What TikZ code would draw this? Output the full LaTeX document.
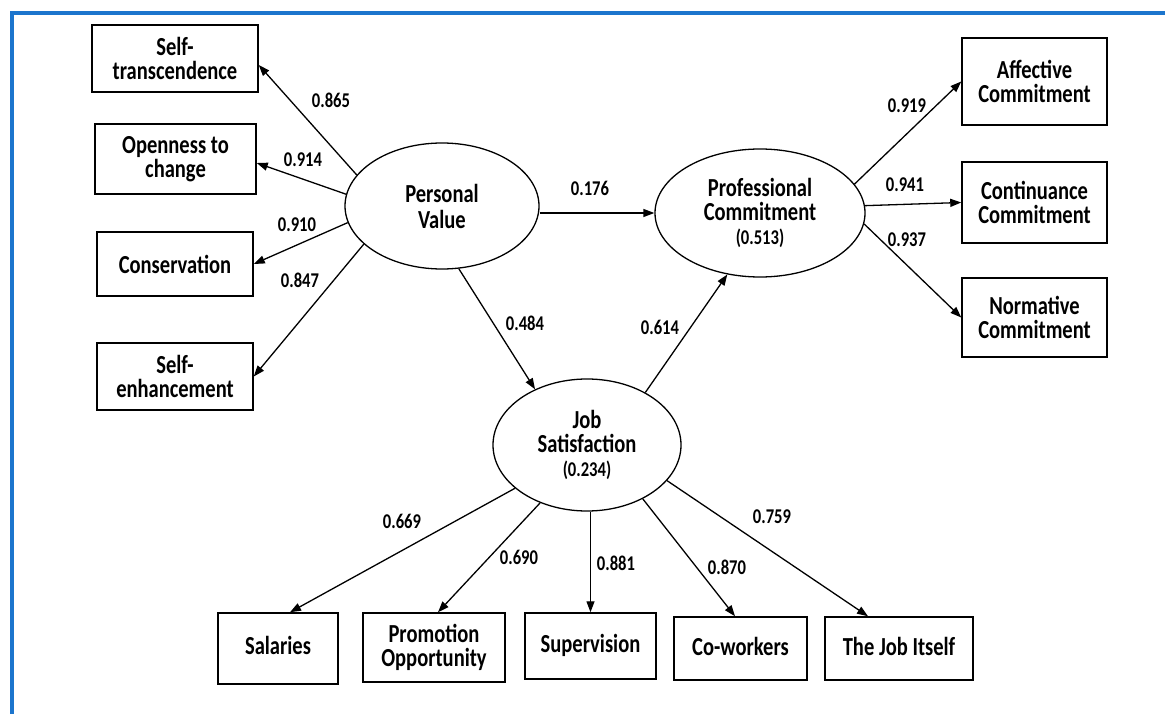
\documentclass[tikz,border=0pt]{standalone}
\usepackage{fontspec}
\newfontfamily\dfont{Carlito}[FakeStretch=0.79]
\usetikzlibrary{arrows.meta,calc,shapes.geometric}
\definecolor{frameblue}{RGB}{28,117,205}
\begin{document}
\begin{tikzpicture}[x=1pt,y=-1pt,
  box/.style={draw=black,line width=1.5pt,fill=white,align=center,inner sep=0pt,
    font=\dfont\bfseries\fontsize{26}{23.5}\selectfont},
  latent/.style={ellipse,draw=black,line width=1.3pt,fill=white,align=center,inner sep=0pt,
    font=\dfont\bfseries\fontsize{26}{24}\selectfont},
  arr/.style={-{Triangle[length=11pt,width=8pt]},line width=1.3pt},
  lab/.style={font=\dfont\bfseries\fontsize{21}{21}\selectfont,inner sep=0pt}]
\useasboundingbox (0,0) rectangle (1165,714);
\fill[white] (0,0) rectangle (1165,714);
\draw[frameblue,line width=3.5pt] (12,720) -- (12,13) -- (1170,13);

% indicator boxes
\node[box,minimum width=166pt,minimum height=67pt] (st) at (175,58.5) {Self-\\transcendence};
\node[box,minimum width=161pt,minimum height=70pt] (oc) at (175.5,159) {Openness to\\change};
\node[box,minimum width=156pt,minimum height=64pt] (cons) at (175,264) {Conservation};
\node[box,minimum width=156pt,minimum height=67pt] (se) at (175,376.5) {Self-\\enhancement};
\node[box,minimum width=145pt,minimum height=87pt] (aff) at (1034.5,81.5) {Affective\\Commitment};
\node[box,minimum width=145pt,minimum height=81pt] (cont) at (1034.5,202.5) {Continuance\\Commitment};
\node[box,minimum width=145pt,minimum height=79pt] (norm) at (1034.5,317.5) {Normative\\Commitment};
\node[box,minimum width=120pt,minimum height=71pt] (sal) at (278,648.5) {\raisebox{7pt}{Salaries}};
\node[box,minimum width=142pt,minimum height=69pt] (promo) at (434,647.5) {Promotion\\Opportunity};
\node[box,minimum width=131pt,minimum height=66pt] (sup) at (590.5,646) {\raisebox{5pt}{Supervision}};
\node[box,minimum width=133pt,minimum height=63pt] (cow) at (740.5,648.5) {\raisebox{4pt}{Co-workers}};
\node[box,minimum width=148pt,minimum height=63pt] (job) at (899,648.5) {\raisebox{4pt}{The Job Itself}};

% latent variables
\node[latent,minimum width=194pt,minimum height=126pt] (pv) at (442,206) {Personal\\[2pt]Value};
\node[latent,minimum width=210pt,minimum height=128pt] (pc) at (760,213)
  {Professional\\Commitment\\{\fontsize{21}{21}\selectfont(0.513)}};
\node[latent,minimum width=188pt,minimum height=132pt] (js) at (587,445)
  {Job\\Satisfaction\\{\fontsize{21}{21}\selectfont(0.234)}};

% connectors
\draw[arr] (pv.160) -- ($(st.east)+(0,6.5)$);
\draw[arr] (pv.173) -- ($(oc.east)+(0,4)$);
\draw[arr] (pv.190) -- (cons.east);
\draw[arr] (pv.206) -- (se.east);
\draw[arr] (pv.east |- pc.west) -- (pc.west);
\draw[arr] (pv.285) -- (js.133);
\draw[arr] (js.42) -- (pc.242);
\draw[arr] (pc.17) -- (aff.west);
\draw[arr] (pc.4) -- (cont.west);
\draw[arr] (pc.-6.5) -- (norm.west);
\draw[arr] (js.211) -- ($(sal.north)+(12,0)$);
\draw[arr] (js.231) -- ($(promo.north)+(4,0)$);
\draw[arr] (sup.north |- js.south) -- (sup.north);
\draw[arr] (js.-44.5) -- ($(cow.north)+(-5.5,0)$);
\draw[arr] (js.-24.6) -- ($(job.north)+(-31,0)$);

% labels
\node[lab] (l1) at (331,100) {0.865};
\node[lab] (l2) at (303,160) {0.914};
\node[lab] (l3) at (297,225) {0.910};
\node[lab] (l4) at (300,280) {0.847};
\node[lab] (l5) at (590,188) {0.176};
\node[lab] (l6) at (525,323) {0.484};
\node[lab] (l7) at (660,327) {0.614};
\node[lab] (l8) at (907,106) {0.919};
\node[lab] (l9) at (905,185) {0.941};
\node[lab] (l10) at (907,240) {0.937};
\node[lab] (l11) at (402,521) {0.669};
\node[lab] (l12) at (519,557) {0.690};
\node[lab] (l13) at (616,563) {0.881};
\node[lab] (l14) at (727,567) {0.870};
\node[lab] (l15) at (772,517) {0.759};
\end{tikzpicture}
\end{document}
